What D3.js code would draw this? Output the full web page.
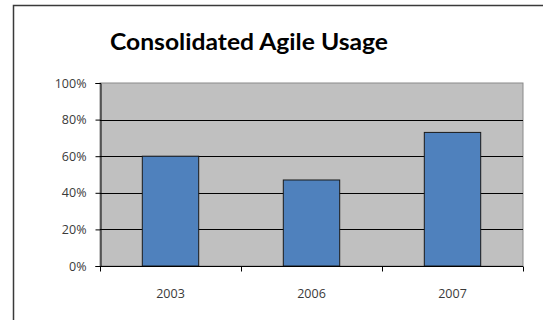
<!DOCTYPE html>
<html lang="en">
<head>
<meta charset="UTF-8">
<title>Consolidated Agile Usage</title>
<script src="https://d3js.org/d3.v7.min.js"></script>
<style>
    body { margin: 0; background: #fff; overflow: hidden; }
    svg { display: block; font-family: "Open Sans", sans-serif; }
</style>
</head>
<body>
<div id="chart"></div>
<script>
var years = ["2003", "2006", "2007"];
var usage = [0.60, 0.47, 0.73];
var yTicks = [0, 0.2, 0.4, 0.6, 0.8, 1.0];

var width = 543, height = 320;
var plot = { left: 100, right: 523, top: 83, bottom: 266 };

var svg = d3.select("#chart").append("svg")
    .attr("width", width)
    .attr("height", height);

// outer chart frame (runs off the right and bottom edges)
svg.append("rect")
    .attr("x", 13.5).attr("y", 5.5)
    .attr("width", 600).attr("height", 400)
    .attr("fill", "#fff")
    .attr("stroke", "#3a3a3a")
    .attr("stroke-width", 1.5);

svg.append("text")
    .attr("x", 110).attr("y", 50)
    .attr("textLength", 278)
    .attr("lengthAdjust", "spacingAndGlyphs")
    .attr("font-family", "Lato, sans-serif")
    .attr("font-size", 23)
    .attr("font-weight", "bold")
    .attr("fill", "#000")
    .text("Consolidated Agile Usage");

var x = d3.scaleBand()
    .domain(years)
    .range([plot.left, plot.right])
    .paddingInner(0.6)
    .paddingOuter(0.3);

var xEdges = d3.scaleBand()
    .domain(years)
    .range([plot.left, plot.right]);

var y = d3.scaleLinear()
    .domain([0, 1])
    .range([plot.bottom, plot.top]);

// plot background
svg.append("rect")
    .attr("x", plot.left).attr("y", plot.top)
    .attr("width", plot.right - plot.left)
    .attr("height", plot.bottom - plot.top)
    .attr("fill", "#c0c0c0")
    .attr("stroke", "#8a8a8a")
    .attr("stroke-width", 1);

// gridlines
svg.selectAll("line.grid")
    .data(yTicks.filter(function(d) { return d > 0 && d < 1; }))
    .enter().append("line")
    .attr("class", "grid")
    .attr("x1", plot.left).attr("x2", plot.right)
    .attr("y1", function(d) { return Math.round(y(d)) + 0.5; })
    .attr("y2", function(d) { return Math.round(y(d)) + 0.5; })
    .attr("stroke", "#000")
    .attr("stroke-width", 1);

// bars
svg.selectAll("rect.bar")
    .data(usage)
    .enter().append("rect")
    .attr("class", "bar")
    .attr("x", function(d, i) { return x(years[i]); })
    .attr("y", function(d) { return y(d); })
    .attr("width", x.bandwidth())
    .attr("height", function(d) { return y(0) - y(d); })
    .attr("fill", "#4f81bd")
    .attr("stroke", "#1a1a1a")
    .attr("stroke-width", 1);

// y axis
var yAxis = d3.axisLeft(y)
    .tickValues(yTicks)
    .tickFormat(d3.format(".0%"))
    .tickSize(5)
    .tickPadding(9);

var gy = svg.append("g")
    .attr("transform", "translate(" + (plot.left + 0.5) + ",0)")
    .call(yAxis);
gy.select(".domain").attr("stroke", "#000");
gy.selectAll(".tick line").attr("stroke", "#000");
gy.selectAll(".tick text")
    .attr("font-size", 12.5)
    .attr("fill", "#3a3a3a")
    .attr("font-family", "'Open Sans', sans-serif");

// x axis: ticks at category edges
var gx = svg.append("g")
    .attr("transform", "translate(0," + (plot.bottom + 0.5) + ")");
gx.append("line")
    .attr("x1", plot.left).attr("x2", plot.right)
    .attr("stroke", "#000");
var edges = years.map(function(d) { return xEdges(d); }).concat([plot.right]);
gx.selectAll("line.tick")
    .data(edges)
    .enter().append("line")
    .attr("class", "tick")
    .attr("x1", function(d) { return Math.round(d) + 0.5; })
    .attr("x2", function(d) { return Math.round(d) + 0.5; })
    .attr("y1", 0).attr("y2", 5)
    .attr("stroke", "#000");
gx.selectAll("text")
    .data(years)
    .enter().append("text")
    .attr("x", function(d) { return x(d) + x.bandwidth() / 2; })
    .attr("y", 31)
    .attr("text-anchor", "middle")
    .attr("font-size", 12.5)
    .attr("fill", "#3a3a3a")
    .text(function(d) { return d; });
</script>
</body>
</html>
